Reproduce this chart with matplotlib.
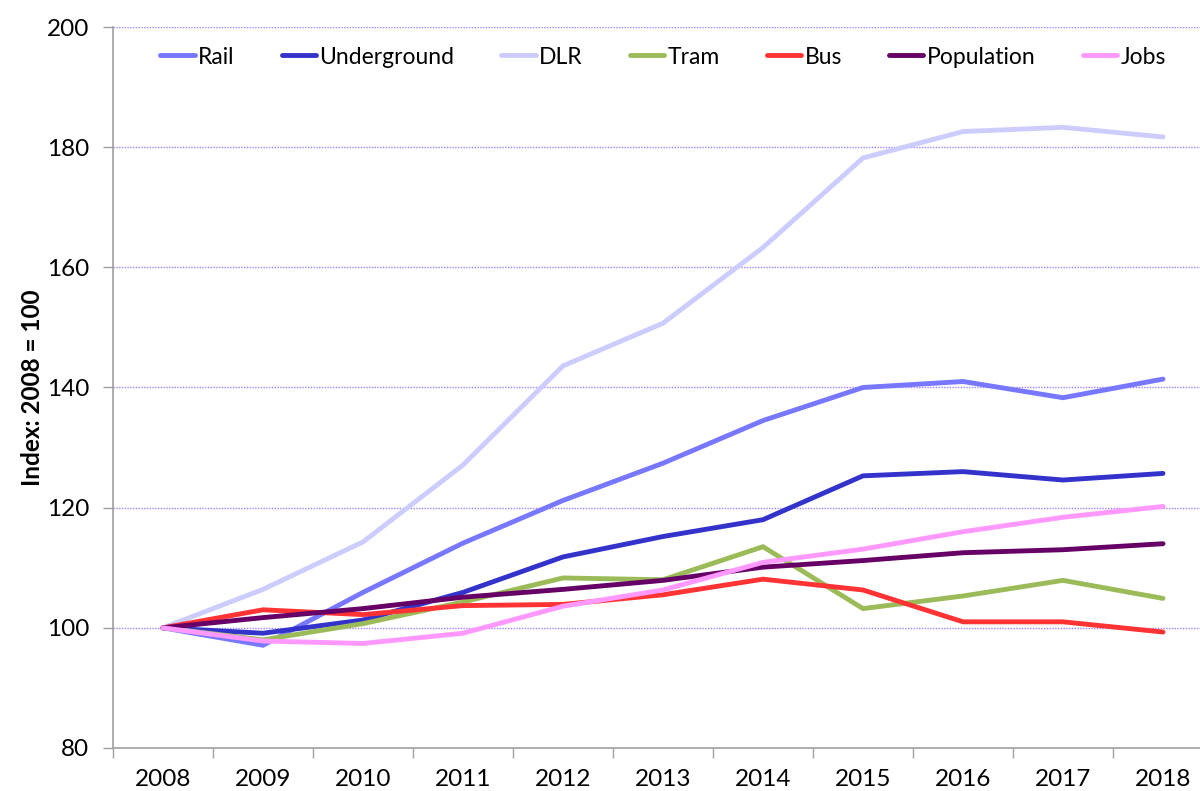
import matplotlib
matplotlib.use("Agg")
import matplotlib.pyplot as plt
from matplotlib.ticker import FixedLocator

years = ["2008", "2009", "2010", "2011", "2012", "2013", "2014", "2015", "2016", "2017", "2018"]
rail = [100, 97.1, 105.9, 114.1, 121.2, 127.4, 134.5, 140.0, 141.0, 138.3, 141.4]
underground = [100, 99.1, 101.3, 105.9, 111.8, 115.2, 118.0, 125.3, 126.0, 124.6, 125.7]
dlr = [100, 106.4, 114.3, 127.1, 143.6, 150.7, 163.3, 178.2, 182.6, 183.3, 181.7]
tram = [100, 98.0, 100.7, 104.3, 108.3, 108.0, 113.5, 103.2, 105.3, 107.9, 104.9]
bus = [100, 103.0, 102.2, 103.7, 103.9, 105.5, 108.1, 106.3, 101.0, 101.0, 99.3]
population = [100, 101.7, 103.2, 105.1, 106.4, 107.9, 110.1, 111.2, 112.5, 113.0, 114.0]
jobs = [100, 97.8, 97.4, 99.1, 103.6, 106.3, 110.9, 113.1, 116.0, 118.4, 120.2]

series = [
    ("Rail", rail, "#7777ff"),
    ("Underground", underground, "#3333cc"),
    ("DLR", dlr, "#ccccff"),
    ("Tram", tram, "#9bbb59"),
    ("Bus", bus, "#ff3333"),
    ("Population", population, "#660066"),
    ("Jobs", jobs, "#ff99ff"),
]

plt.rcParams['font.family'] = ['Lato', 'DejaVu Sans']

fig = plt.figure(figsize=(12, 7.91), dpi=100)
ax = fig.add_axes([113/1200, 43/791, 1100/1200, 721/791])

x = list(range(len(years)))
for name, vals, col in series:
    ax.plot(x, vals, color=col, lw=3.5, label=name, solid_capstyle='round', solid_joinstyle='miter')

ax.set_xlim(-0.5, len(years) - 0.5)
ax.set_ylim(80, 200)
ax.set_yticks([80, 100, 120, 140, 160, 180, 200])
ax.set_xticks(x)
ax.set_xticklabels(years)
ax.xaxis.set_minor_locator(FixedLocator([i + 0.5 for i in range(-1, len(years))]))
ax.tick_params(axis='x', which='major', length=0, pad=15, labelsize=17.5)
ax.tick_params(axis='x', which='minor', length=7, color='#a0a0a0', width=1)
ax.tick_params(axis='y', length=7, color='#a0a0a0', width=1, pad=10, labelsize=17.5)

ax.grid(axis='y', color='#9f7fff', linestyle=(0, (1, 1)), linewidth=1)
ax.set_axisbelow(True)
for s in ['top', 'right']:
    ax.spines[s].set_visible(False)
for s in ['left', 'bottom']:
    ax.spines[s].set_color('#a0a0a0')
    ax.spines[s].set_linewidth(1.2)

ax.set_ylabel("Index: 2008 = 100", fontsize=17.5, fontweight='bold', labelpad=2)

leg = ax.legend(loc='center left', bbox_to_anchor=(0.043, (748 - 57) / 721), ncol=7, frameon=False,
                fontsize=16.5, handlelength=1.5, handletextpad=0.15, columnspacing=2.05,
                borderaxespad=0, borderpad=0)

fig.savefig("out.png", dpi=100)
